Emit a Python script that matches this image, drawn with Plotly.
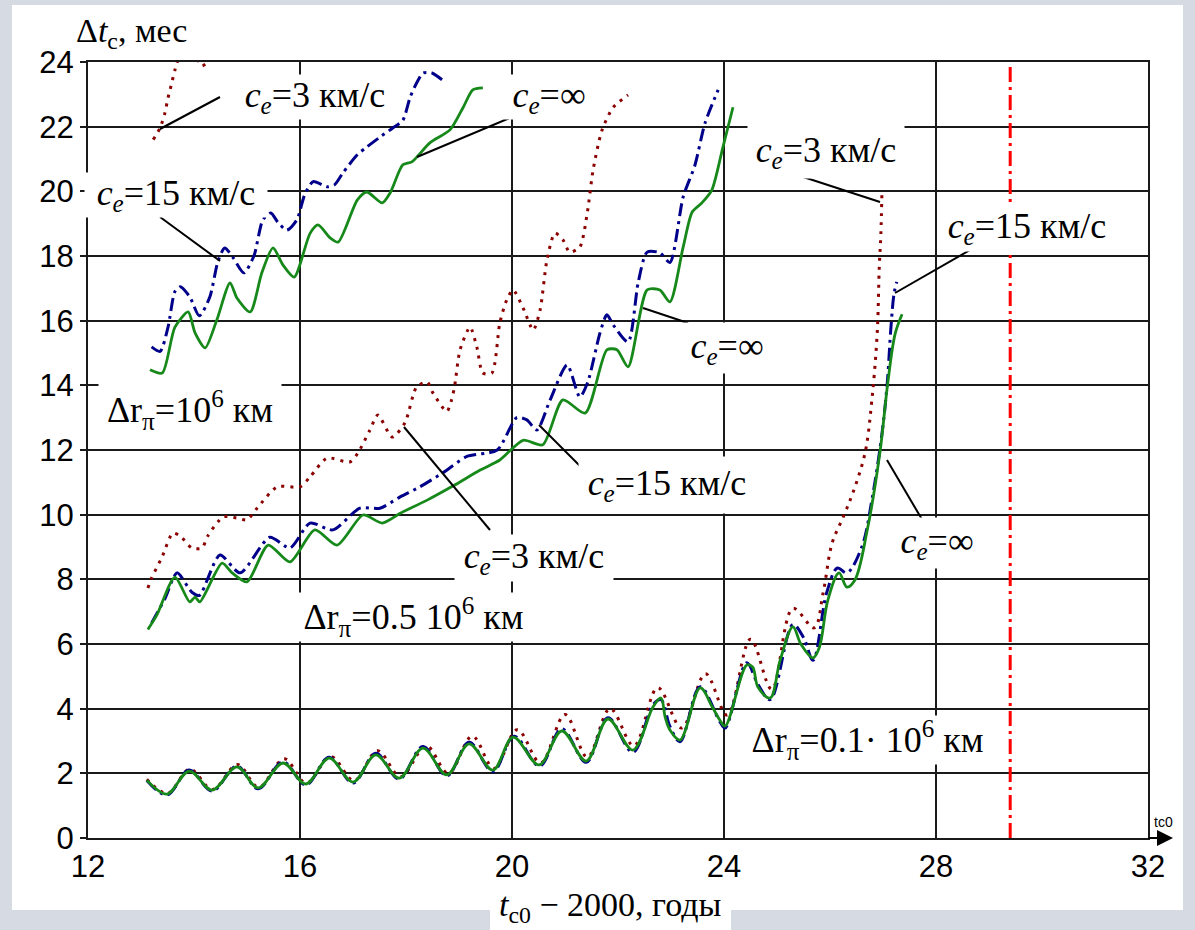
import plotly.graph_objects as go

# ---------------- data ----------------
# Δr = 1e6 km
g1_inf_x = [13.17, 13.4, 13.64, 13.89, 14.02, 14.21, 14.43, 14.68, 14.81, 15.06, 15.28, 15.49, 15.68, 15.89,
            16.19, 16.34, 16.57, 16.72, 17.08, 17.26, 17.55, 17.7, 17.94, 18.11, 18.45, 18.83, 19.08, 19.26, 19.45]
g1_inf_y = [14.48, 14.38, 15.8, 16.27, 15.62, 15.16, 16.02, 17.17, 16.7, 16.27, 17.48, 18.25, 17.72, 17.35,
            18.7, 18.96, 18.56, 18.43, 19.73, 19.98, 19.64, 19.95, 20.82, 20.91, 21.5, 21.9, 22.6, 23.14, 23.2]
g1_c15_x = [13.2, 13.36, 13.51, 13.64, 13.74, 13.92, 14.1, 14.3, 14.45, 14.58, 14.74, 14.94, 15.13, 15.3, 15.45,
            15.58, 15.75, 15.94, 16.09, 16.25, 16.51, 16.65, 16.81, 17.08, 17.26, 17.51, 17.75, 17.94, 18.08,
            18.21, 18.32, 18.49, 18.68]
g1_c15_y = [15.19, 15.05, 15.8, 16.9, 17.05, 16.74, 16.15, 16.74, 17.82, 18.25, 17.94, 17.48, 18.0, 19.12, 19.33,
            19.05, 18.8, 19.12, 19.9, 20.3, 20.14, 20.2, 20.57, 21.13, 21.37, 21.68, 21.96, 22.2, 22.92,
            23.38, 23.66, 23.66, 23.45]
g1_c3_x = [13.23, 13.36, 13.45, 13.51, 13.58, 13.64, 13.7, 13.9, 14.1, 14.15, 14.26, 14.4]
g1_c3_y = [21.6, 21.96, 22.42, 22.89, 23.35, 23.75, 24.05, 24.3, 24.0, 23.88, 24.0, 24.3]

# Δr = 0.5e6 km
g2_inf_x = [13.13, 13.3, 13.64, 13.92, 14.02, 14.11, 14.53, 14.72, 15.0, 15.4, 15.81, 16.28, 16.7, 17.19, 17.55,
            17.9, 18.4, 18.9, 19.4, 19.77, 20.21, 20.58, 20.96, 21.38, 21.79, 21.98, 22.19, 22.55, 22.79, 22.98,
            23.23, 23.4, 23.58, 23.77, 23.98, 24.17]
g2_inf_y = [6.45, 6.9, 8.07, 7.3, 7.45, 7.3, 8.5, 8.2, 7.92, 9.06, 8.54, 9.53, 9.06, 9.99, 9.74,
            10.05, 10.45, 10.9, 11.38, 11.69, 12.3, 12.16, 13.55, 13.14, 15.1, 15.1, 14.57, 16.95, 16.95, 16.58,
            18.28, 19.36, 19.64, 20.04, 21.37, 22.6]
g2_c15_x = [13.2, 13.45, 13.68, 13.96, 14.1, 14.49, 14.87, 15.43, 15.81, 16.19, 16.62, 17.13, 17.51, 17.89,
            18.26, 18.7, 19.15, 19.72, 20.09, 20.28, 20.47, 20.72, 21.04, 21.28, 21.43, 21.66, 21.79, 21.91,
            22.19, 22.38, 22.55, 22.79, 22.98, 23.23, 23.45, 23.64, 23.89]
g2_c15_y = [6.65, 7.4, 8.2, 7.6, 7.5, 8.75, 8.2, 9.3, 8.97, 9.74, 9.53, 10.2, 10.2, 10.55,
            10.86, 11.3, 11.8, 12.0, 13.0, 12.93, 12.62, 13.55, 14.63, 13.64, 14.1, 15.62, 16.18, 15.87,
            15.34, 17.17, 18.12, 18.1, 17.8, 19.83, 20.8, 22.1, 23.14]
g2_c3_x = [13.13, 13.2, 13.4, 13.6, 13.74, 13.96, 14.15, 14.26, 14.55, 14.8, 15.0, 15.19, 15.57, 16.0, 16.19,
           16.51, 16.94, 17.09, 17.32, 17.47, 17.74, 17.98, 18.2, 18.4, 18.51, 18.77, 18.86, 18.92, 19.02,
           19.21, 19.34, 19.45, 19.62, 19.77, 19.9, 20.02, 20.21, 20.4, 20.53, 20.66, 20.81, 20.96, 21.09,
           21.28, 21.42, 21.53, 21.7, 21.91, 22.19]
g2_c3_y = [7.73, 8.04, 8.7, 9.43, 9.34, 8.97, 8.97, 9.34, 9.93, 9.9, 9.84, 10.2, 10.86, 10.86, 11.17,
           11.75, 11.63, 11.9, 12.62, 13.08, 12.4, 12.84, 13.95, 14.1, 13.76, 13.19, 13.55, 14.0, 15.1,
           15.8, 15.16, 14.38, 14.38, 15.93, 16.64, 16.95, 16.39, 15.71, 16.33, 17.88, 18.71, 18.5, 18.12,
           18.28, 19.33, 20.66, 21.9, 22.6, 22.98]

# Δr = 0.1e6 km
g3_inf_x = [13.11, 13.49, 13.91, 14.34, 14.81, 15.21, 15.68, 16.11, 16.55, 17.0, 17.43, 17.87, 18.32, 18.77,
            19.19, 19.64, 20.02, 20.51, 20.94, 21.4, 21.81, 22.28, 22.66, 22.81, 22.89, 22.98, 23.17, 23.55,
            23.78, 23.92, 24.02, 24.43, 24.54, 24.64, 24.87, 25.06, 25.3, 25.45, 25.68, 25.8, 25.96, 26.17,
            26.32, 26.47, 26.7, 26.94, 27.09, 27.23, 27.36]
g3_inf_y = [1.79, 1.36, 2.07, 1.48, 2.2, 1.55, 2.32, 1.67, 2.47, 1.73, 2.57, 1.85, 2.78, 1.95,
            2.91, 2.1, 3.12, 2.26, 3.31, 2.38, 3.68, 2.72, 4.05, 4.33, 3.74, 3.34, 3.03, 4.64,
            4.05, 3.65, 3.46, 5.35, 5.29, 4.67, 4.33, 5.5, 6.53, 6.0, 5.57, 5.9, 7.36, 8.2,
            7.76, 7.98, 9.5, 11.9, 14.07, 15.6, 16.2]
g3_c15_x = [13.11, 13.49, 13.91, 14.34, 14.81, 15.21, 15.68, 16.11, 16.55, 17.0, 17.43, 17.87, 18.32, 18.77,
            19.19, 19.64, 20.04, 20.52, 20.94, 21.4, 21.81, 22.28, 22.66, 22.81, 22.98, 23.17, 23.55, 23.92,
            24.02, 24.43, 24.64, 24.87, 25.3, 25.5, 25.68, 25.94, 26.14, 26.32, 26.6, 26.79, 26.98, 27.08,
            27.15, 27.21, 27.26]
g3_c15_y = [1.78, 1.33, 2.1, 1.45, 2.22, 1.52, 2.36, 1.64, 2.5, 1.7, 2.62, 1.82, 2.83, 1.92,
            2.96, 2.05, 3.15, 2.22, 3.38, 2.34, 3.72, 2.65, 4.12, 4.28, 3.45, 2.98, 4.68, 3.6,
            3.4, 5.42, 4.75, 4.28, 6.6, 6.2, 5.5, 7.6, 8.35, 8.2, 9.0, 10.45, 12.5, 14.07,
            15.8, 16.85, 17.2]
g3_c3_x = [13.11, 13.5, 13.92, 14.35, 14.82, 15.22, 15.7, 16.12, 16.58, 17.02, 17.46, 17.9, 18.38, 18.8,
           19.25, 19.66, 20.1, 20.54, 21.0, 21.42, 21.85, 22.3, 22.75, 23.2, 23.65, 24.06, 24.5, 24.9,
           25.3, 25.7, 25.87, 26.04, 26.25, 26.43, 26.66, 26.79, 26.89, 26.93, 26.96, 26.98]
g3_c3_y = [1.82, 1.38, 2.13, 1.5, 2.27, 1.57, 2.45, 1.7, 2.52, 1.77, 2.7, 1.9, 2.85, 2.0,
           3.15, 2.15, 3.35, 2.32, 3.82, 2.5, 4.0, 2.85, 4.65, 3.4, 5.08, 3.8, 6.15, 4.6,
           7.1, 6.5, 7.58, 9.12, 9.93, 10.67, 11.9, 13.55, 15.6, 17.66, 18.7, 20.0]

critical_year = 29.4
x_ticks = [12, 16, 20, 24, 28, 32]
y_ticks = [0, 2, 4, 6, 8, 10, 12, 14, 16, 18, 20, 22, 24]

# ---------------- geometry helpers (layout only) ----------------
W, H = 1195, 930
PL, PT, PW, PH = 88, 62, 1060, 776
X0, X1, Y0, Y1 = 12, 32, 0, 24


def dx(px):
    return X0 + (px - PL) * (X1 - X0) / PW


def dy(py):
    return Y0 + (PT + PH - py) * (Y1 - Y0) / PH


def pxp(px):
    return (px - PL) / PW


def pyp(py):
    return (PT + PH - py) / PH


DOT = dict(color="#8b0000", width=3, dash="3px,6px")
DASHDOT = dict(color="#00008b", width=3, dash="13px,5px,3px,5px")
SOLID = dict(color="#16891a", width=2.8)

fig = go.Figure()
series = [
    (g1_c3_x, g1_c3_y, DOT, 0.7), (g1_c15_x, g1_c15_y, DASHDOT, 0.7), (g1_inf_x, g1_inf_y, SOLID, 0.7),
    (g2_c3_x, g2_c3_y, DOT, 0.7), (g2_c15_x, g2_c15_y, DASHDOT, 0.7), (g2_inf_x, g2_inf_y, SOLID, 0.7),
    (g3_c3_x, g3_c3_y, DOT, 1.0), (g3_c15_x, g3_c15_y, DASHDOT, 1.0), (g3_inf_x, g3_inf_y, SOLID, 1.0),
]
for xs, ys, st, sm in series:
    fig.add_trace(go.Scatter(x=xs, y=ys, mode="lines",
                             line=dict(shape="spline", smoothing=sm, **st),
                             showlegend=False, hoverinfo="skip"))

fig.add_trace(go.Scatter(x=[critical_year, critical_year], y=[Y0, Y1], mode="lines",
                         line=dict(color="#ff0000", width=3, dash="15px,5px,3px,5px"),
                         showlegend=False, hoverinfo="skip"))

SERIF = "Liberation Serif, Times New Roman, serif"
SANS = "Liberation Sans, Arial, sans-serif"
CE = "<i>c<sub>e</sub></i>"

shapes = [
    # white panel behind the chart
    dict(type="rect", xref="paper", yref="paper", x0=pxp(12), x1=pxp(1183), y0=pyp(910), y1=pyp(5),
         fillcolor="white", line=dict(width=0), layer="below"),
    # white tab behind the x-axis title
    dict(type="rect", xref="paper", yref="paper", x0=pxp(490), x1=pxp(731), y0=pyp(930), y1=pyp(890),
         fillcolor="white", line=dict(width=0), layer="below"),
]
leaders = [
    (220, 97, 160, 129), (160, 217, 220, 261), (517, 115, 417, 157),
    (788, 172, 880, 202), (970, 250, 895, 293), (643, 308, 688, 323),
    (887, 460, 930, 533), (539, 425, 583, 469), (404, 427, 490, 530),
]
for a, b, c, d in leaders:
    shapes.append(dict(type="line", xref="x", yref="y", x0=dx(a), y0=dy(b), x1=dx(c), y1=dy(d),
                       line=dict(color="black", width=2)))

labels = [
    (CE + "=3 км/с", 315, 97, 170, 44),
    (CE + "=15 км/с", 176, 195, 182, 44),
    (CE + "=∞", 549, 97, 90, 44),
    (CE + "=3 км/с", 826, 152, 156, 52),
    (CE + "=15 км/с", 1027, 228, 176, 46),
    (CE + "=∞", 727, 348, 86, 50),
    (CE + "=∞", 937, 543, 86, 50),
    (CE + "=15 км/с", 667, 485, 176, 56),
    (CE + "=3 км/с", 534, 558, 158, 46),
    ("Δr<sub>π</sub>=10<sup>6</sup> км", 190, 410, 182, 58),
    ("Δr<sub>π</sub>=0.5 10<sup>6</sup> км", 413, 617, 245, 48),
    ("Δr<sub>π</sub>=0.1· 10<sup>6</sup> км", 867, 740, 245, 48),
]
annotations = []
for txt, cx, cy, w, h in labels:
    annotations.append(dict(text=txt, x=dx(cx), y=dy(cy), xref="x", yref="y", showarrow=False,
                            xanchor="center", yanchor="middle",
                            font=dict(family=SERIF, size=36, color="black"),
                            bgcolor="white", width=w, height=h, borderpad=0))

annotations += [
    dict(text="Δ<i>t</i><sub>c</sub>, мес", xref="paper", yref="paper", x=pxp(131), y=pyp(33),
         xanchor="center", yanchor="middle",
         showarrow=False, font=dict(family=SERIF, size=34, color="black")),
    dict(text="<i>t</i><sub>c0</sub> − 2000, годы", xref="paper", yref="paper", x=pxp(610), y=pyp(907),
         xanchor="center", yanchor="middle",
         showarrow=False, font=dict(family=SERIF, size=34, color="black")),
    dict(text="tc0", xref="paper", yref="paper", x=pxp(1163), y=pyp(822), showarrow=False,
         xanchor="center", yanchor="middle",
         font=dict(family=SANS, size=14, color="black")),
    dict(text="", x=pxp(1173), y=0, xref="paper", yref="paper", ax=-26, ay=0, showarrow=True,
         arrowhead=2, arrowsize=1.6, arrowwidth=2, arrowcolor="black"),
]

fig.update_layout(
    width=W, height=H, autosize=False,
    margin=dict(l=PL, r=W - PL - PW, t=PT, b=H - PT - PH, pad=0),
    paper_bgcolor="#d6dbe3", plot_bgcolor="white",
    shapes=shapes, annotations=annotations, showlegend=False,
)
fig.update_xaxes(range=[X0, X1], tickvals=x_ticks, ticktext=[str(v) for v in x_ticks],
                 showgrid=True, gridcolor="#1a1a1a", gridwidth=1.6,
                 showline=True, linecolor="#1a1a1a", linewidth=2, mirror=True, zeroline=False,
                 ticks="", tickfont=dict(family=SANS, size=31, color="black"))
fig.update_yaxes(range=[Y0, Y1], tickvals=y_ticks, ticktext=[str(v) for v in y_ticks],
                 showgrid=True, gridcolor="#1a1a1a", gridwidth=1.6,
                 showline=True, linecolor="#1a1a1a", linewidth=2, mirror=True, zeroline=False,
                 ticks="outside", ticklen=6, tickwidth=2, tickcolor="#1a1a1a",
                 tickfont=dict(family=SANS, size=31, color="black"))

fig.write_html("out.html")
